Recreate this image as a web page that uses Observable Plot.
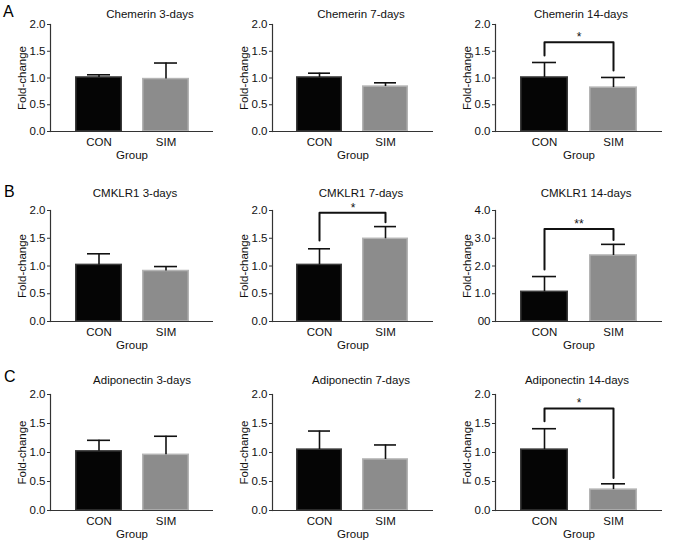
<!DOCTYPE html>
<html><head><meta charset="utf-8">
<script src="https://cdn.jsdelivr.net/npm/d3@7"></script>
<script src="https://cdn.jsdelivr.net/npm/@observablehq/plot@0.6"></script>
<style>
body{margin:0;background:#fff;font-family:"Liberation Sans",Arial,sans-serif;}
#wrap{position:relative;width:677px;height:547px;overflow:hidden;background:#fff}
.panel{position:absolute}
.letter{position:absolute;font-size:16px;color:#000;line-height:1}
</style></head><body><div id="wrap"></div>
<script>
// ---- data ----
const groups = ["CON", "SIM"];
const panelLetters = ["A", "B", "C"];
const titles = [
  "Chemerin 3-days", "Chemerin 7-days", "Chemerin 14-days",
  "CMKLR1 3-days", "CMKLR1 7-days", "CMKLR1 14-days",
  "Adiponectin 3-days", "Adiponectin 7-days", "Adiponectin 14-days"
];
const conMeans = [1.01, 1.01, 1.01, 1.02, 1.02, 1.07, 1.02, 1.05, 1.05];
const simMeans = [0.98, 0.84, 0.82, 0.91, 1.49, 2.38, 0.96, 0.88, 0.36];
const conErrTop = [1.06, 1.09, 1.29, 1.22, 1.31, 1.62, 1.21, 1.37, 1.41];
const simErrTop = [1.28, 0.91, 1.01, 0.99, 1.71, 2.78, 1.28, 1.13, 0.46];
const yMax = [2, 2, 2, 2, 2, 4, 2, 2, 2];
const ticksStd = [0, 0.5, 1, 1.5, 2];
const tickLabelsStd = ["0.0", "0.5", "1.0", "1.5", "2.0"];
const ticksWide = [0, 1, 2, 3, 4];
const tickLabelsWide = ["00", "1.0", "2.0", "3.0", "4.0"];
// significance brackets: panel, bracket height, left end, right end, label
const sigPanels = [2, 4, 5, 8];
const sigHeights = [1.67, 1.96, 3.33, 1.76];
const sigLeftEnds = [1.42, 1.46, 1.87, 1.54];
const sigRightEnds = [1.14, 1.79, 2.94, 0.56];
const sigLabels = ["*", "*", "**", "*"];

// ---- layout ----
const rowTop = [0, 165, 345];
const rowMarginTop = [24, 45, 49];
const rowPlotH = [107, 111, 116];
const rowTitleY = [14, 193, 380];
const colLeft = [0, 222, 445];
const colPlotW = [163, 161, 167];
const titleDx = [18, 8, 2, 3, 8, 7, 10, 8, -2];
const letterPos = [[3, 4], [4, 184], [4, 369]];
const FONT = "'Liberation Sans', Arial, Helvetica, sans-serif";

const wrap = document.getElementById("wrap");

panelLetters.forEach((L, r) => {
  const d = document.createElement("div");
  d.className = "letter";
  d.textContent = L;
  d.style.left = letterPos[r][0] + "px";
  d.style.top = letterPos[r][1] + "px";
  wrap.appendChild(d);
});

titles.forEach((title, i) => {
  const r = Math.floor(i / 3), c = i % 3;
  const rows = [
    {g: groups[0], v: conMeans[i], top: conErrTop[i]},
    {g: groups[1], v: simMeans[i], top: simErrTop[i]}
  ];
  const wide = yMax[i] === 4;
  const tv = wide ? ticksWide : ticksStd;
  const tl = wide ? tickLabelsWide : tickLabelsStd;
  const labelMap = new Map(tv.map((t, k) => [t, tl[k]]));
  const mt = rowMarginTop[r], ph = rowPlotH[r];
  const mb = 36, ml = 50, mr = 225 - 50 - colPlotW[c];
  const marks = [
    Plot.barY(rows, {x: "g", y: "v", fill: "g", stroke: d => d.g === "CON" ? "#3a3a3a" : "#b4b4b4", strokeWidth: 1.5, insetLeft: 0.75, insetRight: 0.75}),
    Plot.ruleX(rows, {x: "g", y1: "v", y2: "top", stroke: "#111", strokeWidth: 1.6}),
    Plot.tickY(rows, {x: "g", y: "top", stroke: "#111", strokeWidth: 1.6, insetLeft: 12, insetRight: 12}),
    Plot.ruleY([0], {stroke: "#333", strokeWidth: 1.2}),
    Plot.frame({anchor: "left", stroke: "#333", strokeWidth: 1.2}),
    Plot.axisY({ticks: tv, tickFormat: d => labelMap.get(d), tickSize: 3, tickPadding: 2, label: null, fontSize: 11.5, stroke: "#333"}),
    Plot.axisX({tickSize: 0, tickPadding: 6, label: null, fontSize: 11.5}),
    Plot.text([title], {frameAnchor: "top", lineAnchor: "middle", dy: rowTitleY[r] - rowTop[r] - mt, dx: titleDx[i], fontSize: 11.5, fill: "#111"}),
    Plot.text(["Fold-change"], {frameAnchor: "left", textAnchor: "middle", lineAnchor: "middle", rotate: -90, dx: -28, fontSize: 11.5, fill: "#111"}),
    Plot.text(["Group"], {frameAnchor: "bottom", lineAnchor: "middle", dy: 24, fontSize: 11.5, fill: "#111"})
  ];
  const si = sigPanels.indexOf(i);
  if (si >= 0) {
    const pts = [
      {g: groups[0], v: sigLeftEnds[si]},
      {g: groups[0], v: sigHeights[si]},
      {g: groups[1], v: sigHeights[si]},
      {g: groups[1], v: sigRightEnds[si]}
    ];
    marks.push(Plot.line(pts, {x: "g", y: "v", stroke: "#111", strokeWidth: 2}));
    marks.push(Plot.text([sigLabels[si]], {y: [sigHeights[si]], text: d => d, lineAnchor: "middle", dy: -5, fontSize: 12, fill: "#111"}));
  }
  const chart = Plot.plot({
    width: 225,
    height: mt + ph + mb,
    marginTop: mt, marginBottom: mb, marginLeft: ml, marginRight: mr,
    style: {fontFamily: FONT, fontSize: "11.5px", color: "#111", background: "transparent", overflow: "visible"},
    x: {domain: groups, paddingInner: 0.3, paddingOuter: 0.36},
    y: {domain: [0, yMax[i]]},
    color: {domain: groups, range: ["#050505", "#8c8c8c"]},
    marks
  });
  const d = document.createElement("div");
  d.className = "panel";
  d.style.left = colLeft[c] + "px";
  d.style.top = rowTop[r] + "px";
  d.appendChild(chart);
  wrap.appendChild(d);
});
</script>
</body></html>
